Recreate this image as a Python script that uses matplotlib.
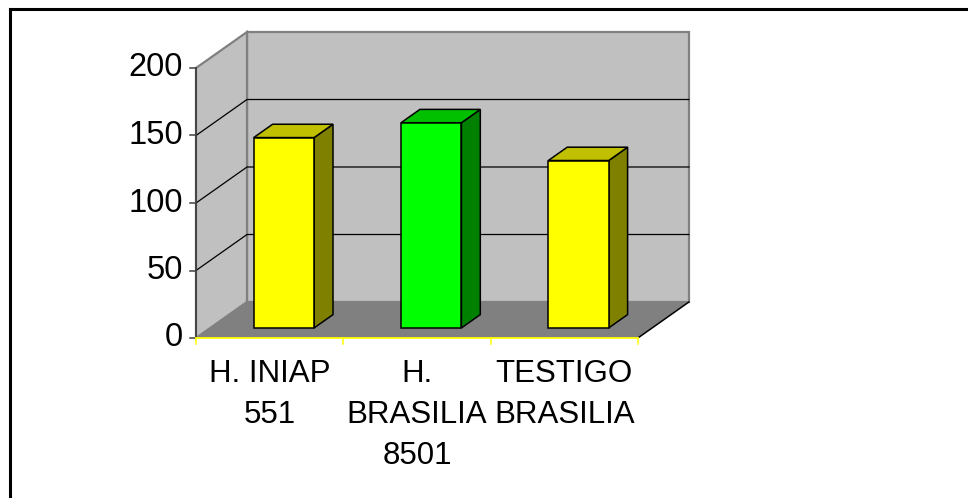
#!/usr/bin/env python3
# Excel-style 3D column chart redrawn with plain matplotlib patches

import matplotlib
matplotlib.use('Agg')
import matplotlib.pyplot as plt
from matplotlib.patches import Polygon
from matplotlib.lines import Line2D

categories = ['H. INIAP\n551', 'H.\nBRASILIA\n8501', 'TESTIGO\nBRASILIA']
values = [141, 152, 124]
yticks = [0, 50, 100, 150, 200]

front_colors = ['#FFFF00', '#00FF00', '#FFFF00']
top_colors = ['#C0C000', '#00C000', '#C0C000']
side_colors = ['#808000', '#008000', '#808000']

plt.rcParams['font.family'] = ['Liberation Sans', 'DejaVu Sans']

W, H = 968, 498
fig = plt.figure(figsize=(W / 100, H / 100), dpi=100)
ax = fig.add_axes([0, 0, 1, 1])
ax.set_axis_off()

# pixel layout of the plot box (front plane)
x0_px, cat_px = 196, 147.3       # category 0 starts here, one category wide
y0_px, val_px = 338, 1.35        # value 0 (pixels from top), px per unit
ax.set_xlim(-x0_px / cat_px, (W - x0_px) / cat_px)
ax.set_ylim(-(H - y0_px) / val_px, y0_px / val_px)

ncat = len(categories)
ymax = yticks[-1]
DX = 51 / cat_px      # full depth offset, data units
DY = 36 / val_px
bar_w = 0.41
d_front, d_back = 0.28, 0.65


def proj(x, y, d):
    return (x + d * DX, y + d * DY)


def poly(pts, fc, ec='black', lw=1.1, z=1):
    ax.add_patch(Polygon([proj(*p) for p in pts], closed=True, facecolor=fc,
                         edgecolor=ec, linewidth=lw, zorder=z,
                         joinstyle='miter'))


# walls and floor
poly([(0, 0, 1), (ncat, 0, 1), (ncat, ymax, 1), (0, ymax, 1)],
     '#C0C0C0', ec='#808080', lw=1.6, z=1)
poly([(0, 0, 0), (0, 0, 1), (0, ymax, 1), (0, ymax, 0)],
     '#C0C0C0', ec='#808080', lw=1.6, z=1)
poly([(0, 0, 0), (ncat, 0, 0), (ncat, 0, 1), (0, 0, 1)],
     '#808080', ec='none', lw=0, z=2)
ax.plot(*zip(proj(ncat, 0, 0), proj(ncat, 0, 1)), color='black', lw=1.1,
        zorder=2)

# gridlines on back and side wall
for t in yticks[1:-1]:
    xs, ys = zip(proj(0, t, 0), proj(0, t, 1), proj(ncat, t, 1))
    ax.plot(xs, ys, color='black', lw=0.9, zorder=2)

# value axis
ax.plot([0, 0], [0, ymax], color='#404040', lw=1.3, zorder=3)
tick_len = 6 / cat_px
for t in yticks:
    ax.plot([-tick_len, 0], [t, t], color='#404040', lw=1.1, zorder=3)
    ax.text(-13 / cat_px, t, str(t), ha='right', va='center', fontsize=23.5)

# category axis (yellow)
ax.plot([0, ncat], [0, 0], color='#FFFF00', lw=1.3, zorder=3)
for i in range(ncat + 1):
    ax.plot([i, i], [0, -6 / val_px], color='#FFFF00', lw=1.1, zorder=3)

# bars
for i, v in enumerate(values):
    xa = i + 0.5 - bar_w / 2
    xb = i + 0.5 + bar_w / 2
    poly([(xb, 0, d_front), (xb, 0, d_back), (xb, v, d_back), (xb, v, d_front)],
         side_colors[i], z=4)
    poly([(xa, v, d_front), (xb, v, d_front), (xb, v, d_back), (xa, v, d_back)],
         top_colors[i], z=4)
    poly([(xa, 0, d_front), (xb, 0, d_front), (xb, v, d_front), (xa, v, d_front)],
         front_colors[i], z=5)

# category labels
for i, lab in enumerate(categories):
    ax.text(i + 0.5, -21 / val_px, lab, ha='center', va='top', fontsize=22.5,
            linespacing=1.47)

# chart area border (only top and left edges visible in the crop)
bx, by = 9.5 / W, 1 - 9.5 / H
fig.add_artist(Line2D([bx, 1.01], [by, by], color='black', lw=2.2,
                      transform=fig.transFigure))
fig.add_artist(Line2D([bx, bx], [by, -0.01], color='black', lw=2.2,
                      transform=fig.transFigure))

fig.savefig('out.png', dpi=100)
